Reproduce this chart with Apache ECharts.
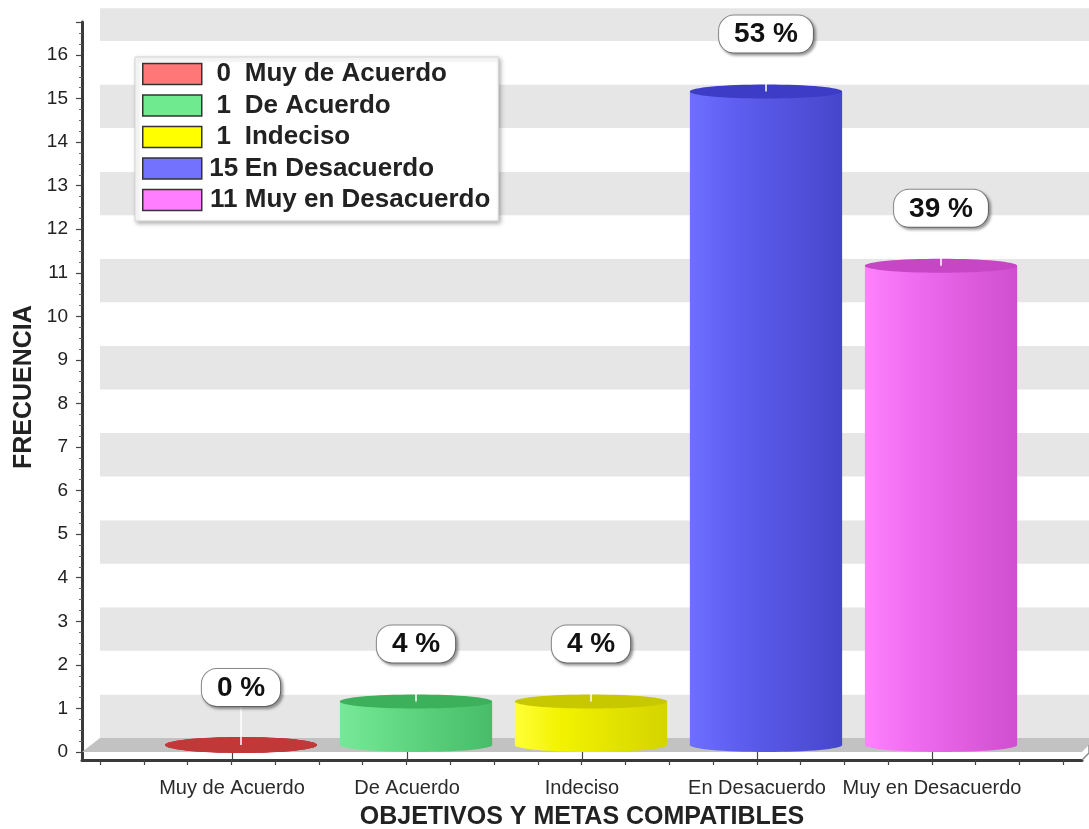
<!DOCTYPE html>
<html>
<head>
<meta charset="utf-8">
<script src="https://cdn.jsdelivr.net/npm/echarts@6/dist/echarts.min.js"></script>
<style>
html,body{margin:0;padding:0;background:#ffffff;}
#chart{width:1089px;height:829px;}
</style>
</head>
<body>
<div id="chart"></div>
<script>
// ---- data ----
const categories = ['Muy de Acuerdo', 'De Acuerdo', 'Indeciso', 'En Desacuerdo', 'Muy en Desacuerdo'];
const counts = [0, 1, 1, 15, 11];
const percents = [0, 4, 4, 53, 39];
const yAxisMin = 0;
const yAxisMax = 16.75;
const yAxisStep = 1;
const xAxisTitle = 'OBJETIVOS Y METAS COMPATIBLES';
const yAxisTitle = 'FRECUENCIA';

// ---- styles ----
const FONT = 'Arial, "Liberation Sans", sans-serif';
const swatchColors = ['#ff7777', '#6fea8f', '#ffff00', '#7272ff', '#ff7dff'];
const sideColors = [
  ['#d04848', '#c84040', '#a83030'],
  ['#78e898', '#66dc88', '#48bc68'],
  ['#ffff38', '#f2f200', '#d4d400'],
  ['#6e6eff', '#5e5ef0', '#4646cc'],
  ['#ff82ff', '#f06cf0', '#d04ed0']
];
const capColors = ['#c03838', '#3db05b', '#c8c800', '#3c3cc6', '#c646c6'];
const HALF_DX = 9, HALF_DY = 7;     // half of the 3D depth offset
const LABEL_GAP = 39;

function barRenderer(k) {
  return function (params, api) {
    const idx = api.value(0), v = api.value(1), pct = api.value(2);
    const p0 = api.coord([idx, 0]);
    const p1 = api.coord([idx, v]);
    const band = api.size([1, 0])[0];
    const rx = band * 0.435;
    const ry = v > 0 ? 7 : 8;
    const cx = p0[0] + HALF_DX;
    const yb = p0[1] - HALF_DY;
    const yt = p1[1] - HALF_DY;
    const c = sideColors[k];
    const grad = new echarts.graphic.LinearGradient(0, 0, 1, 0, [
      { offset: 0, color: c[0] }, { offset: 0.3, color: c[1] }, { offset: 1, color: c[2] }
    ]);
    const boxBottom = yt - LABEL_GAP;
    return {
      type: 'group',
      children: [
        { type: 'ellipse', shape: { cx: cx, cy: yb, rx: rx, ry: ry }, style: { fill: grad } },
        { type: 'rect', shape: { x: cx - rx, y: yt, width: 2 * rx, height: Math.max(0, yb - yt) }, style: { fill: grad } },
        { type: 'ellipse', shape: { cx: cx, cy: yt, rx: rx, ry: ry }, style: { fill: capColors[k] } },
        { type: 'line', shape: { x1: cx, y1: yt, x2: cx, y2: boxBottom }, style: { stroke: '#ffffff', lineWidth: 1.5 } },
        {
          type: 'text', x: cx, y: boxBottom,
          style: {
            text: pct + ' %',
            fontFamily: FONT, fontSize: 28, fontWeight: 'bold', fill: '#111',
            align: 'center', verticalAlign: 'bottom',
            backgroundColor: '#ffffff', borderColor: '#8a8a8a', borderWidth: 1, borderRadius: 15,
            padding: [5, 15, 4, 15],
            shadowColor: 'rgba(0,0,0,0.35)', shadowBlur: 3, shadowOffsetX: 2, shadowOffsetY: 2
          }
        }
      ]
    };
  };
}

function floorRenderer(params, api) {
  const cs = params.coordSys;
  const x = cs.x, yb = cs.y + cs.height, w = cs.width;
  return {
    type: 'group',
    children: [
      {
        type: 'polygon',
        shape: { points: [[x, yb], [x + w, yb], [x + w, yb + 7], [x + w - 7, yb + 14], [x - 18, yb + 14]] },
        style: { fill: '#c2c2c2' }
      },
      {
        type: 'polyline',
        shape: { points: [[x + w - 7, yb + 22], [x + w, yb + 15], [x + w, yb + 7]] },
        style: { stroke: '#8a8a8a', lineWidth: 1.5, fill: null }
      }
    ]
  };
}

const series = [
  {
    type: 'custom', name: '__floor', xAxisIndex: 0, yAxisIndex: 0,
    data: [[0, 0]], renderItem: floorRenderer, silent: true, z: 1
  }
];
categories.forEach(function (cat, k) {
  series.push({
    type: 'custom', name: cat, xAxisIndex: 2, yAxisIndex: 2,
    itemStyle: { color: swatchColors[k] },
    data: [[k, counts[k], percents[k]]],
    encode: { x: 0, y: 1 },
    renderItem: barRenderer(k), silent: true, z: 3
  });
});

const chart = echarts.init(document.getElementById('chart'), null, { renderer: 'canvas' });
chart.setOption({
  animation: false,
  backgroundColor: '#ffffff',
  grid: [
    { left: 100, right: 0, top: 8.3, bottom: 91, outerBoundsMode: 'none', containLabel: false },   // back wall
    { left: 82, right: 7, top: 22, bottom: 69, outerBoundsMode: 'none', containLabel: false },     // frame lines
    { left: 232, right: 157, top: 22.3, bottom: 77, outerBoundsMode: 'none', containLabel: false },// plot
    { left: 100, right: 25.75, top: 22, bottom: 69, outerBoundsMode: 'none', containLabel: false } // minor x ticks
  ],
  xAxis: [
    { gridIndex: 0, type: 'value', min: 0, max: 1, show: false },
    {
      gridIndex: 1, type: 'value', min: 0, max: 1,
      axisLine: { show: true, lineStyle: { color: '#3a3a3a', width: 3 } },
      axisTick: { show: false }, axisLabel: { show: false }, splitLine: { show: false }
    },
    {
      gridIndex: 2, type: 'category', data: categories, boundaryGap: false, offset: 8,
      axisLine: { show: false },
      axisTick: { show: true, length: 8, lineStyle: { color: '#444', width: 1.2 } },
      axisLabel: { interval: 0, fontFamily: FONT, fontSize: 20, color: '#2a2a2a', margin: 18 },
      splitLine: { show: false },
      name: xAxisTitle, nameLocation: 'middle', nameGap: 45, nameMoveOverlap: false,
      nameTextStyle: { fontFamily: FONT, fontSize: 25, fontWeight: 'bold', color: '#222' }
    },
    {
      gridIndex: 3, type: 'value', min: -0.75, max: 4.75, interval: 0.25,
      axisLine: { show: false },
      axisTick: { show: true, length: 5, lineStyle: { color: '#444', width: 1.2 } },
      axisLabel: { show: false }, splitLine: { show: false }
    }
  ],
  yAxis: [
    {
      gridIndex: 0, type: 'value', min: yAxisMin, max: yAxisMax, interval: yAxisStep,
      axisLine: { show: false }, axisTick: { show: false }, axisLabel: { show: false },
      splitLine: { show: false },
      splitArea: { show: true, areaStyle: { color: ['#e6e6e6', '#ffffff'] } }
    },
    {
      gridIndex: 1, type: 'value', min: 0, max: 1,
      axisLine: { show: true, lineStyle: { color: '#3a3a3a', width: 3 } },
      axisTick: { show: false }, axisLabel: { show: false }, splitLine: { show: false }
    },
    {
      gridIndex: 2, type: 'value', min: yAxisMin, max: yAxisMax, interval: yAxisStep, offset: 150,
      axisLine: { show: false }, splitLine: { show: false },
      axisTick: { show: true, length: 6, lineStyle: { color: '#444', width: 1.2 } },
      minorTick: { show: true, splitNumber: 4, length: 3, lineStyle: { color: '#666', width: 1 } },
      axisLabel: {
        fontFamily: FONT, fontSize: 19, color: '#222', margin: 14,
        formatter: function (v) { return Number.isInteger(v) ? String(v) : ''; }
      },
      name: yAxisTitle, nameLocation: 'middle', nameGap: 45, nameMoveOverlap: false,
      nameTextStyle: { fontFamily: FONT, fontSize: 25, fontWeight: 'bold', color: '#222' }
    },
    { gridIndex: 3, type: 'value', min: 0, max: 1, show: false }
  ],
  legend: {
    data: categories,
    orient: 'vertical', left: 135, top: 57,
    padding: [4, 8, 8, 7],
    itemWidth: 59, itemHeight: 21, itemGap: 5.5,
    icon: 'rect', selectedMode: false,
    backgroundColor: '#ffffff', borderColor: '#d4d4d4', borderWidth: 1,
    shadowColor: 'rgba(0,0,0,0.3)', shadowBlur: 4, shadowOffsetX: 2, shadowOffsetY: 2,
    itemStyle: { borderColor: '#333', borderWidth: 1.5 },
    textStyle: {
      fontFamily: FONT, fontSize: 26, fontWeight: 'bold', color: '#222', lineHeight: 26,
      rich: {
        n: { width: 34, align: 'right', fontFamily: FONT, fontSize: 26, fontWeight: 'bold', color: '#222', lineHeight: 26 },
        t: { fontFamily: FONT, fontSize: 26, fontWeight: 'bold', color: '#222', lineHeight: 26, padding: [0, 0, 0, 4] }
      }
    },
    formatter: function (name) {
      const i = categories.indexOf(name);
      return '{n|' + counts[i] + '}{t|' + name + '}';
    }
  },
  series: series
});
</script>
</body>
</html>
